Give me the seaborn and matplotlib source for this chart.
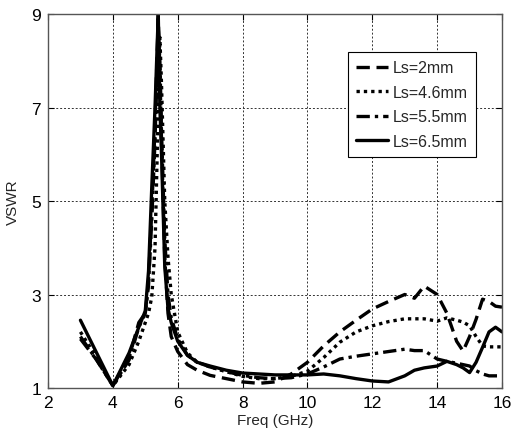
import pandas as pd
import seaborn as sns
import matplotlib.pyplot as plt
import numpy as np

# Data
freq = [3.0, 3.5, 4.0, 4.5, 4.8, 5.0, 5.1, 5.2, 5.3, 5.35, 5.4, 5.45, 5.5, 5.6, 5.7, 5.8,
        6.0, 6.3, 6.6, 7.0, 7.5, 8.0, 8.5, 9.0, 9.5, 10.0, 10.5, 11.0, 11.5, 12.0, 12.5,
        13.0, 13.3, 13.6, 14.0, 14.3, 14.6, 14.8, 15.0, 15.2, 15.4, 15.6, 15.8, 16.0]

vswr_2mm = [2.05, 1.6, 1.05, 1.65, 2.4, 2.6, 3.3, 4.8, 6.6, 7.8, 8.9, 7.8, 6.3, 3.8, 2.6, 2.1,
            1.78, 1.5, 1.38, 1.27, 1.2, 1.13, 1.1, 1.13, 1.3, 1.55, 1.9, 2.2, 2.45, 2.69, 2.85,
            3.0, 2.92, 3.18, 3.0, 2.6, 2.0, 1.79, 2.1, 2.47, 2.9, 2.85, 2.75, 2.73]

vswr_4p6mm = [2.2, 1.65, 1.05, 1.5, 2.0, 2.4, 2.6, 2.95, 4.0, 5.5, 7.0, 8.5, 7.5, 5.0, 3.8, 3.0,
              2.2, 1.75, 1.55, 1.45, 1.35, 1.25, 1.2, 1.2, 1.25, 1.36, 1.65, 1.98, 2.2, 2.33, 2.42,
              2.48, 2.48, 2.48, 2.43, 2.5, 2.45, 2.41, 2.33, 2.1, 1.9, 1.88, 1.88, 1.88]

vswr_5p5mm = [2.1, 1.6, 1.05, 1.6, 2.3, 2.6, 3.2, 4.6, 6.3, 7.5, 8.7, 8.0, 6.5, 4.2, 3.0, 2.5,
              2.05, 1.7, 1.55, 1.45, 1.35, 1.27, 1.22, 1.2, 1.22, 1.3, 1.45, 1.62, 1.68, 1.73, 1.78,
              1.83, 1.8, 1.8, 1.62, 1.57, 1.53, 1.5, 1.47, 1.37, 1.3, 1.26, 1.26, 1.26]

vswr_6p5mm = [2.45, 1.75, 1.05, 1.75, 2.3, 2.65, 3.5, 5.3, 7.0, 8.0, 9.0, 7.0, 6.0, 3.6, 2.7, 2.4,
              2.0, 1.7, 1.55, 1.47, 1.38, 1.32, 1.3, 1.28, 1.28, 1.28, 1.3, 1.26, 1.2, 1.15, 1.13,
              1.26, 1.38, 1.43, 1.47, 1.57, 1.5, 1.43, 1.33, 1.55, 1.87, 2.2, 2.3, 2.2]

labels = ['Ls=2mm', 'Ls=4.6mm', 'Ls=5.5mm', 'Ls=6.5mm']
styles = [(0, (4, 2)), (0, (1, 1.2)), (0, (4, 1.5, 1, 1.5)), '-']

sns.set_style('white')
plt.rcParams['font.family'] = ['Liberation Sans Narrow', 'Liberation Sans', 'DejaVu Sans']

fig = plt.figure(figsize=(5.15, 4.39), dpi=100)
ax = fig.add_axes([0.0932, 0.1139, 0.8816, 0.8519])

series = [vswr_2mm, vswr_4p6mm, vswr_5p5mm, vswr_6p5mm]
for vals, lab, ls in zip(series, labels, styles):
    df = pd.DataFrame({'freq': freq, 'vswr': vals})
    sns.lineplot(data=df, x='freq', y='vswr', ax=ax, color='black', lw=2.4,
                 linestyle=ls, label=lab)

ax.set_xlim(2, 16)
ax.set_ylim(1, 9)
ax.set_xticks(np.arange(2, 17, 2))
ax.set_yticks([1, 3, 5, 7, 9])
ax.grid(True, color='#333333', linestyle=(0, (2, 2)), lw=0.7)
ax.tick_params(direction='in', length=4, labelsize=12.5, colors='black', pad=5,
               bottom=True, left=True, top=True, right=True)
for sp in ax.spines.values():
    sp.set_color('#555555')
    sp.set_linewidth(1.0)

ax.set_xlabel('Freq (GHz)', fontsize=11, labelpad=2)
ax.set_ylabel('VSWR', fontsize=11, labelpad=8)

leg = ax.legend(loc='upper left', bbox_to_anchor=(0.661, 0.898), fontsize=11.5,
                frameon=True, fancybox=False, edgecolor='black', framealpha=1,
                handlelength=2.0, handletextpad=0.3, borderpad=0.5, labelspacing=0.6,
                borderaxespad=0)
leg.get_frame().set_linewidth(0.8)

fig.savefig('out.png', dpi=100)
